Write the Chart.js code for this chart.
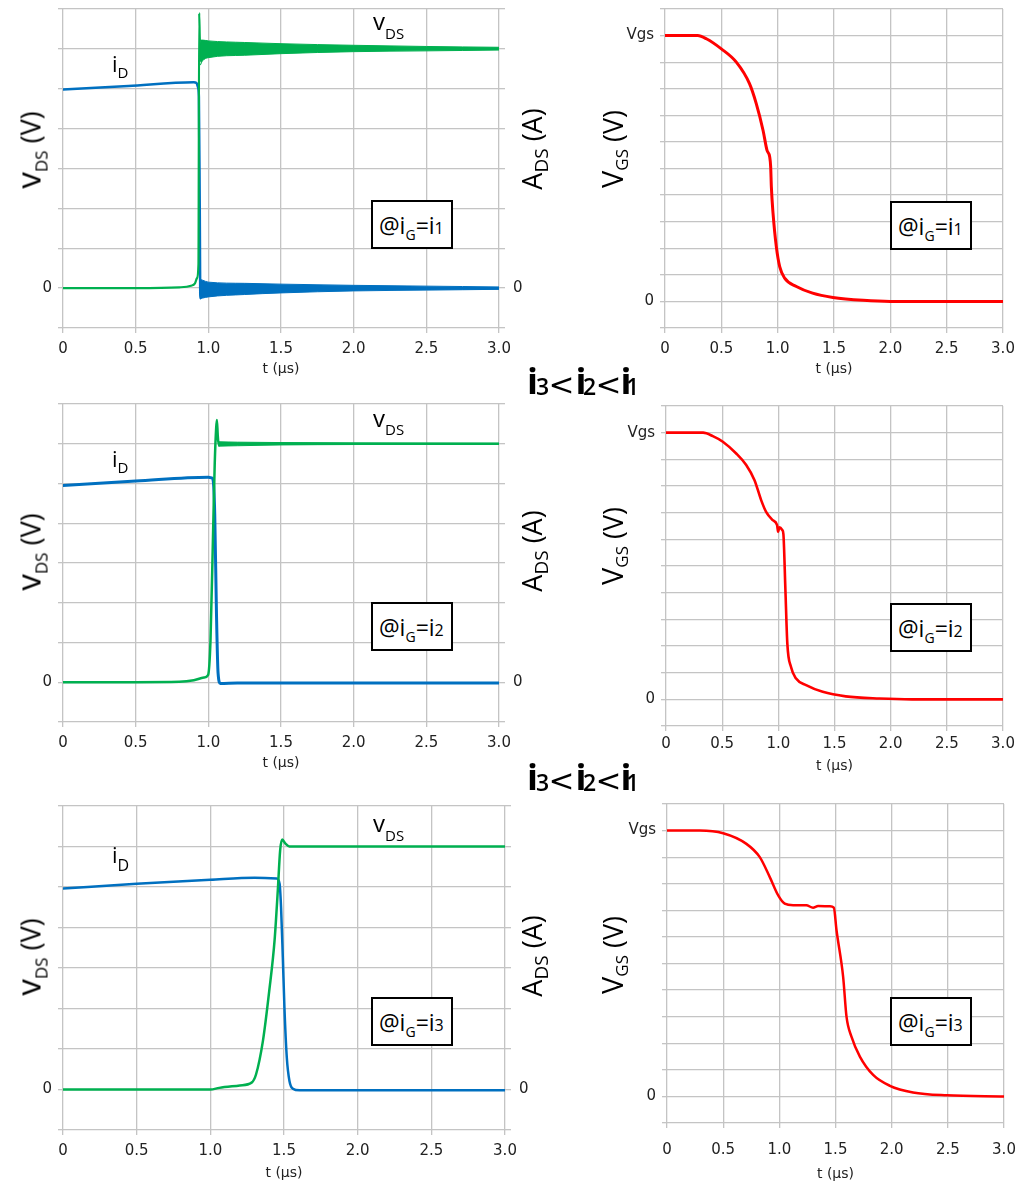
<!DOCTYPE html>
<html><head><meta charset="utf-8">
<script src="https://cdn.jsdelivr.net/npm/chart.js@4.4.1/dist/chart.umd.min.js"></script>
<style>
html,body{margin:0;padding:0;background:#fff}
body{width:1017px;height:1186px;position:relative;overflow:hidden;font-family:'Open Sans',sans-serif;color:#000}
.cv{position:absolute}
.t{position:absolute;white-space:nowrap;line-height:1;color:#000;font-family:'Open Sans',sans-serif}
.r{position:absolute;white-space:nowrap;line-height:1;color:#000;font-family:'Open Sans',sans-serif;transform:translate(-50%,-50%) rotate(-90deg)}
.s{position:relative}
.box{position:absolute;box-sizing:border-box;border:2px solid #000;background:#fff;width:82px;height:49px}
.box .t{left:6px;top:12px;font-size:23px}
.cmp{position:absolute;width:120px;height:40px}
.cmp span{position:absolute;line-height:1;white-space:nowrap;color:#000}
.gi{font-family:'Open Sans',sans-serif;font-weight:700;font-size:36px;top:0}
.gd{font-family:'Open Sans',sans-serif;font-weight:600;font-size:23px;top:11.6px}
.gl{font-family:'DejaVu Sans',sans-serif;font-size:31px;top:5.8px}
</style></head>
<body>
<div class="cv" style="left:0;top:0"><canvas id="c_tl" width="560" height="380"></canvas></div>
<div class="cv" style="left:580px;top:0"><canvas id="c_tr" width="437" height="380"></canvas></div>
<div class="cv" style="left:0;top:380px"><canvas id="c_ml" width="560" height="394"></canvas></div>
<div class="cv" style="left:580px;top:380px"><canvas id="c_mr" width="437" height="398"></canvas></div>
<div class="cv" style="left:0;top:774px"><canvas id="c_bl" width="560" height="408"></canvas></div>
<div class="cv" style="left:580px;top:778px"><canvas id="c_br" width="437" height="405"></canvas></div>

<!-- axis titles -->
<div class="r" style="left:28px;top:150px;font-size:27px"><span style="font-size:33px">v</span><span class="s" style="font-size:17px;top:7px">DS</span> (V)</div>
<div class="r" style="left:28px;top:552px;font-size:27px"><span style="font-size:33px">v</span><span class="s" style="font-size:17px;top:7px">DS</span> (V)</div>
<div class="r" style="left:28px;top:957px;font-size:27px"><span style="font-size:33px">v</span><span class="s" style="font-size:17px;top:7px">DS</span> (V)</div>
<div class="r" style="left:531px;top:149px;font-size:27px">A<span class="s" style="font-size:19px;top:6px">DS</span> (A)</div>
<div class="r" style="left:531px;top:551px;font-size:27px">A<span class="s" style="font-size:19px;top:6px">DS</span> (A)</div>
<div class="r" style="left:531px;top:956px;font-size:27px">A<span class="s" style="font-size:19px;top:6px">DS</span> (A)</div>
<div class="r" style="left:611px;top:149px;font-size:27px"><span style="font-size:29px">V</span><span class="s" style="font-size:17px;top:5px">GS</span> (V)</div>
<div class="r" style="left:611px;top:546px;font-size:27px"><span style="font-size:29px">V</span><span class="s" style="font-size:17px;top:5px">GS</span> (V)</div>
<div class="r" style="left:611px;top:955px;font-size:27px"><span style="font-size:29px">V</span><span class="s" style="font-size:17px;top:5px">GS</span> (V)</div>

<!-- curve labels -->
<div class="t" style="left:373px;top:9px;font-size:24px">v<span class="s" style="font-size:15px;top:9px">DS</span></div>
<div class="t" style="left:373px;top:406px;font-size:24px">v<span class="s" style="font-size:15px;top:8px">DS</span></div>
<div class="t" style="left:373px;top:811px;font-size:24px">v<span class="s" style="font-size:15px;top:9px">DS</span></div>
<div class="t" style="left:112px;top:52px;font-size:22px">i<span class="s" style="font-size:15px;top:6px">D</span></div>
<div class="t" style="left:112px;top:447px;font-size:22px">i<span class="s" style="font-size:15px;top:6px">D</span></div>
<div class="t" style="left:112px;top:843px;font-size:22px">i<span class="s" style="font-size:16px;top:8px">D</span></div>

<!-- condition boxes -->
<div class="box" style="left:371px;top:200px"><div class="t">@i<span class="s" style="font-size:14px;top:6px">G</span>=i<span style="font-size:16px">1</span></div></div>
<div class="box" style="left:890px;top:201px"><div class="t">@i<span class="s" style="font-size:14px;top:6px">G</span>=i<span style="font-size:16px">1</span></div></div>
<div class="box" style="left:371px;top:602px"><div class="t">@i<span class="s" style="font-size:14px;top:6px">G</span>=i<span style="font-size:16px">2</span></div></div>
<div class="box" style="left:890px;top:603px"><div class="t">@i<span class="s" style="font-size:14px;top:6px">G</span>=i<span style="font-size:16px">2</span></div></div>
<div class="box" style="left:371px;top:997px"><div class="t">@i<span class="s" style="font-size:14px;top:6px">G</span>=i<span style="font-size:16px">3</span></div></div>
<div class="box" style="left:890px;top:997px"><div class="t">@i<span class="s" style="font-size:14px;top:6px">G</span>=i<span style="font-size:16px">3</span></div></div>

<!-- comparison captions (baseline at container top + 32) -->
<div class="cmp" style="left:530px;top:363px"><span class="gi" style="left:-3px">i</span><span class="gd" style="left:6px">3</span><span class="gl" style="left:18.5px">&lt;</span><span class="gi" style="left:45.5px">i</span><span class="gd" style="left:53px">2</span><span class="gl" style="left:65.5px">&lt;</span><span class="gi" style="left:90.5px">i</span><span class="gd" style="left:96px">1</span></div>
<div class="cmp" style="left:530px;top:759px"><span class="gi" style="left:-3px">i</span><span class="gd" style="left:6px">3</span><span class="gl" style="left:18.5px">&lt;</span><span class="gi" style="left:45.5px">i</span><span class="gd" style="left:53px">2</span><span class="gl" style="left:65.5px">&lt;</span><span class="gi" style="left:90.5px">i</span><span class="gd" style="left:96px">1</span></div>

<script>
// ---------- tick labels ----------
const xTickValues = [0, 0.5, 1.0, 1.5, 2.0, 2.5, 3.0];
const xTickLabels = ['0', '0.5', '1.0', '1.5', '2.0', '2.5', '3.0'];
const xTitle = 't (µs)';
const dsYTickValues = [0];
const dsYTickLabels = ['0'];
const gsYTickValues = [0, 10];
const gsYTickLabels = ['0', 'Vgs'];

// ---------- top row: i_G = i1 ----------
const tl_vds_t = [0, 0.5, 0.8, 0.88, 0.908, 0.922, 0.932, 0.937, 0.941, 0.946, 0.96, 1.2, 3.0];
const tl_vds   = [0, 0, 0.02, 0.06, 0.12, 0.25, 0.6, 6.9, 6.3, 5.7, 6.0, 6.0, 6.0];
const tl_vds_ring_t = [0.946, 0.96, 1.0, 1.25, 1.5, 2.0, 2.5, 3.0];
const tl_vds_hi     = [6.22, 6.22, 6.2, 6.16, 6.13, 6.09, 6.06, 6.04];
const tl_vds_lo     = [5.6, 5.7, 5.78, 5.84, 5.88, 5.93, 5.95, 5.97];
const tl_id_t = [0, 0.45, 0.9, 0.918, 0.928, 0.935, 0.941, 0.945, 0.96, 3.0];
const tl_id   = [4.98, 5.07, 5.16, 5.15, 5.05, 4.8, 2.0, -0.25, 0, 0];
const tl_id_ring_t = [0.945, 0.96, 1.0, 1.25, 1.5, 2.0, 2.5, 3.0];
const tl_id_hi     = [0.22, 0.2, 0.15, 0.12, 0.1, 0.07, 0.05, 0.03];
const tl_id_lo     = [-0.27, -0.25, -0.22, -0.16, -0.12, -0.07, -0.05, -0.03];
const tr_vgs_t = [0, 0.29, 0.367, 0.5, 0.633, 0.75, 0.81, 0.87, 0.905, 0.929, 0.938, 0.944, 0.959, 0.988, 1.018, 1.062, 1.166, 1.31, 1.49, 1.76, 2.0, 3.0];
const tr_vgs   = [10, 10, 9.88, 9.5, 9.0, 8.19, 7.44, 6.44, 5.69, 5.44, 5.06, 4.31, 3.31, 2.06, 1.31, 0.875, 0.56, 0.31, 0.15, 0.04, 0, 0];

// ---------- middle row: i_G = i2 ----------
const ml_vds_t = [0, 0.5, 0.8, 0.9, 0.97, 0.998, 1.015, 1.033, 1.044, 1.054, 1.059, 1.065, 1.072, 1.08, 1.1, 3.0];
const ml_vds   = [0, 0, 0.01, 0.05, 0.12, 0.18, 1.06, 3.82, 5.5, 6.4, 6.6, 6.2, 5.96, 6.0, 6.0, 6.0];
const ml_vds_ring_t = [1.072, 1.2, 1.5, 2.0, 3.0];
const ml_vds_hi     = [6.05, 6.04, 6.03, 6.02, 6.01];
const ml_vds_lo     = [5.94, 5.95, 5.97, 5.98, 5.99];
const ml_id_t = [0, 0.5, 1.0, 1.024, 1.033, 1.044, 1.056, 1.067, 1.083, 1.2, 3.0];
const ml_id   = [4.95, 5.06, 5.16, 5.14, 5.08, 4.24, 1.73, 0.23, -0.03, -0.02, -0.02];
const mr_vgs_t = [0, 0.33, 0.417, 0.506, 0.625, 0.714, 0.788, 0.847, 0.891, 0.95, 0.989, 0.998, 1.01, 1.035, 1.045, 1.063, 1.08, 1.113, 1.158, 1.247, 1.395, 1.6, 1.9, 2.19, 3.0];
const mr_vgs   = [10, 10, 9.87, 9.66, 9.22, 8.79, 8.22, 7.47, 7.03, 6.72, 6.53, 6.28, 6.45, 6.35, 6.2, 4.1, 2.1, 1.21, 0.78, 0.53, 0.28, 0.11, 0.03, 0, 0];

// ---------- bottom row: i_G = i3 ----------
const bl_vds_t = [0, 0.5, 1.0, 1.06, 1.2, 1.28, 1.31, 1.357, 1.40, 1.436, 1.458, 1.474, 1.488, 1.51, 1.537, 3.0];
const bl_vds   = [0, 0, 0, 0.04, 0.1, 0.17, 0.37, 1.2, 2.44, 3.68, 4.92, 5.91, 6.17, 6.07, 6.0, 6.0];
const bl_id_t = [0, 0.5, 1.0, 1.3, 1.45, 1.47, 1.48, 1.492, 1.503, 1.519, 1.537, 1.56, 1.605, 3.0];
const bl_id   = [4.96, 5.08, 5.18, 5.23, 5.21, 5.08, 4.5, 3.26, 2.02, 0.79, 0.21, 0.02, -0.02, -0.02];
const br_vgs_t = [0, 0.29, 0.5, 0.707, 0.826, 0.915, 0.99, 1.048, 1.123, 1.24, 1.30, 1.345, 1.45, 1.485, 1.509, 1.568, 1.598, 1.642, 1.717, 1.835, 1.984, 2.19, 2.49, 3.0];
const br_vgs   = [10, 10, 9.9, 9.5, 9.0, 8.25, 7.56, 7.25, 7.19, 7.19, 7.1, 7.16, 7.15, 7.1, 6.25, 4.5, 3.0, 2.25, 1.5, 0.81, 0.4, 0.15, 0.04, 0];

// ---------- styles & layout ----------
const GREEN = '#00b050', BLUE = '#0070c0', RED = '#ff0000', GRID = '#c4c4c4';
const TICK_FONT = {family: "'DejaVu Sans', Verdana, sans-serif", size: 15};

function pts(t, v) { return t.map((x, i) => ({x: x, y: v[i]})); }
function line(t, v, color, w) {
  return {data: pts(t, v), borderColor: color, backgroundColor: color, borderWidth: w || 2.5,
          pointRadius: 0, fill: false, cubicInterpolationMode: 'monotone'};
}
function band(t, hi, lo, color) {
  return [
    {data: pts(t, hi), borderColor: color, backgroundColor: color, borderWidth: 1, pointRadius: 0, fill: false, cubicInterpolationMode: 'monotone'},
    {data: pts(t, lo), borderColor: color, backgroundColor: color, borderWidth: 1, pointRadius: 0, fill: '-1', cubicInterpolationMode: 'monotone'}
  ];
}
function labelFor(values, labels) {
  return function (v) { const i = values.indexOf(v); return i >= 0 ? labels[i] : ''; };
}
function noPad(s) { s.paddingTop = 0; s.paddingBottom = 0; s.paddingLeft = 0; s.paddingRight = 0; }

function makeChart(id, L, datasets, yMin, yMax, yVals, yLabs, rightAxis) {
  const scales = {
    x: {type: 'linear', min: 0, max: 3,
        border: {display: false},
        grid: {color: GRID, lineWidth: 1.3, tickLength: 5, tickColor: GRID},
        ticks: {stepSize: 0.5, autoSkip: false, maxRotation: 0, padding: L.xPad, color: '#222', font: TICK_FONT,
                callback: labelFor(xTickValues, xTickLabels)},
        title: {display: true, text: xTitle, color: '#222', font: {family: TICK_FONT.family, size: 14}, padding: {top: 0, bottom: L.titlePad}},
        afterFit: s => { s.height = L.h - (L.b - L.y); noPad(s); }},
    y: {type: 'linear', position: 'left', min: yMin, max: yMax,
        border: {display: false},
        grid: {color: GRID, lineWidth: 1.3, tickLength: 5, tickColor: GRID},
        ticks: {stepSize: 1, autoSkip: false, padding: 6, color: '#222', font: TICK_FONT,
                callback: labelFor(yVals, yLabs)},
        afterFit: s => { s.width = L.l - L.x; noPad(s); }}
  };
  if (rightAxis) {
    scales.y1 = {type: 'linear', position: 'right', min: yMin, max: yMax,
        border: {display: false},
        grid: {drawOnChartArea: false, color: GRID, lineWidth: 1.3, tickLength: 6, tickColor: GRID},
        ticks: {stepSize: 1, autoSkip: false, padding: 8, color: '#222', font: TICK_FONT,
                callback: labelFor(dsYTickValues, dsYTickLabels)},
        afterFit: s => { s.width = L.x + L.w - L.r; noPad(s); }};
  }
  return new Chart(document.getElementById(id), {
    type: 'line',
    data: {datasets: datasets},
    options: {
      responsive: false, animation: false, devicePixelRatio: 1,
      layout: {padding: {top: L.t - L.y, left: 0, bottom: 0, right: rightAxis ? 0 : (L.x + L.w - L.r)}},
      plugins: {legend: {display: false}, tooltip: {enabled: false}},
      elements: {line: {borderCapStyle: 'round', borderJoinStyle: 'round'}},
      scales: scales
    }
  });
}

// canvas boxes and plot areas (page pixels)
const LAY = {
  tl: {x: 0,   y: 0,   w: 560, h: 380, l: 63,  r: 499, t: 9,   b: 328,  xPad: 7,  titlePad: 2},
  tr: {x: 580, y: 0,   w: 437, h: 380, l: 665, r: 1003, t: 9,  b: 328,  xPad: 7,  titlePad: 2},
  ml: {x: 0,   y: 380, w: 560, h: 394, l: 63,  r: 499, t: 404, b: 722,  xPad: 7,  titlePad: 2},
  mr: {x: 580, y: 380, w: 437, h: 398, l: 666, r: 1003, t: 406, b: 726, xPad: 4,  titlePad: 3},
  bl: {x: 0,   y: 774, w: 560, h: 408, l: 63,  r: 505, t: 806, b: 1130, xPad: 7,  titlePad: 0},
  br: {x: 580, y: 778, w: 437, h: 405, l: 667, r: 1004, t: 804, b: 1123, xPad: 13, titlePad: 0}
};

makeChart('c_tl', LAY.tl, [
  ...band(tl_vds_ring_t, tl_vds_hi, tl_vds_lo, GREEN),
  line(tl_vds_t, tl_vds, GREEN, 2.2),
  ...band(tl_id_ring_t, tl_id_hi, tl_id_lo, BLUE),
  line(tl_id_t, tl_id, BLUE, 2.5)
], -1, 7, dsYTickValues, dsYTickLabels, true);

makeChart('c_tr', LAY.tr, [line(tr_vgs_t, tr_vgs, RED, 3)], -1, 11, gsYTickValues, gsYTickLabels, false);

makeChart('c_ml', LAY.ml, [
  ...band(ml_vds_ring_t, ml_vds_hi, ml_vds_lo, GREEN),
  line(ml_vds_t, ml_vds, GREEN, 2.5),
  line(ml_id_t, ml_id, BLUE, 3)
], -1, 7, dsYTickValues, dsYTickLabels, true);

makeChart('c_mr', LAY.mr, [line(mr_vgs_t, mr_vgs, RED, 2.6)], -1, 11, gsYTickValues, gsYTickLabels, false);

makeChart('c_bl', LAY.bl, [
  line(bl_vds_t, bl_vds, GREEN, 2.5),
  line(bl_id_t, bl_id, BLUE, 2.5)
], -1, 7, dsYTickValues, dsYTickLabels, true);

makeChart('c_br', LAY.br, [line(br_vgs_t, br_vgs, RED, 2.5)], -1, 11, gsYTickValues, gsYTickLabels, false);
</script>
</body></html>
